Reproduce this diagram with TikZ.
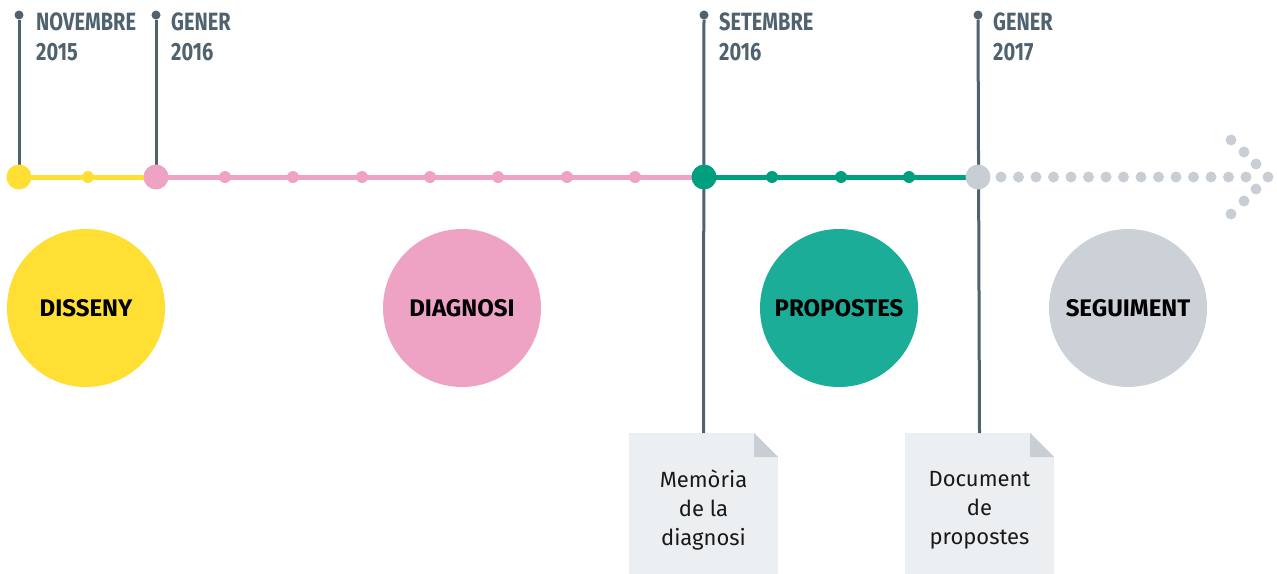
\documentclass[tikz,border=0pt]{standalone}
\usepackage{fontspec}
\setmainfont{Fira Sans}
\newfontfamily\datefont[FakeStretch=0.8]{Fira Sans}
\usetikzlibrary{positioning}

\definecolor{slate}{HTML}{4F626D}
\definecolor{yellowc}{HTML}{FFDF33}
\definecolor{pinkc}{HTML}{EEA3C5}
\definecolor{greenl}{HTML}{00A07F}
\definecolor{greenc}{HTML}{1BAD98}
\definecolor{greyc}{HTML}{C8CED4}
\definecolor{greyph}{HTML}{CBD1D7}
\definecolor{paper}{HTML}{ECEFF2}

\begin{document}
\begin{tikzpicture}[x=1pt,y=-1pt,
  bigdot/.style={circle,inner sep=0pt,minimum size=25pt},
  smalldot/.style={circle,inner sep=0pt,minimum size=12pt},
  greydot/.style={circle,inner sep=0pt,minimum size=11pt,fill=greyc},
  topdot/.style={circle,inner sep=0pt,minimum size=9pt,fill=slate},
  pin/.style={slate,line width=3pt},
  track/.style={line width=5pt},
  datelabel/.style={anchor=base west,align=left,inner sep=0pt,text=slate,
    font=\datefont\bfseries\fontsize{25}{30}\selectfont},
  phase/.style={circle,inner sep=0pt,minimum size=158pt,text=black,
    font=\bfseries\fontsize{24}{28}\selectfont},
  docbox/.style={rectangle,fill=paper,inner sep=0pt,minimum width=149pt,
    minimum height=154pt,align=center,text=black!90,
    font=\fontsize{22}{29}\selectfont}]
\useasboundingbox (0,0) rectangle (1277,573);
\clip (0,0) rectangle (1277,573);

% documents
\node[docbox,anchor=north] (memoria) at (703.5,433) {Memòria\\de la\\diagnosi};
\node[docbox,anchor=north] (document) at (979.5,433) {Document\\de\\propostes};
\foreach \d in {memoria,document}{
  \fill[white] (\d.north east) -- ++(-24,0) -- ++(24,24) -- cycle;
  \fill[greyc] ([xshift=-24pt]\d.north east) -- ++(24,24) -- ++(-24,0) -- cycle;
}

% pins
\node[topdot] (t1) at (19,15) {};
\node[topdot] (t2) at (156,15) {};
\node[topdot] (t3) at (704,15) {};
\node[topdot] (t4) at (978,15) {};
\coordinate (p1) at (19,177);
\coordinate (p2) at (156,177);
\draw[pin] (t1) -- (p1);
\draw[pin] (t2) -- (p2);
\draw[pin] (t3) -- (memoria.north);
\draw[pin] (t4) -- (document.north);

% base anchor sits on the last line
\node[datelabel] (nov) at (36,60) {NOVEMBRE\\2015};
\node[datelabel] (gen16) at (171,60) {GENER\\2016};
\node[datelabel] (set) at (719,60) {SETEMBRE\\2016};
\node[datelabel] (gen17) at (993,60) {GENER\\2017};

% timeline
\node[bigdot] (d1) at (19,177) {};
\node[bigdot] (d2) at (156,177) {};
\node[bigdot] (d3) at (704,177) {};
\node[bigdot] (d4) at (978,177) {};
\draw[track,yellowc] (d1.center) -- (d2.center);
\draw[track,pinkc] (d2.center) -- (d3.center);
\draw[track,greenl] (d3.center) -- (d4.center);
\node[bigdot,fill=yellowc] at (d1) {};
\node[bigdot,fill=pinkc] at (d2) {};
\node[bigdot,fill=greenl] at (d3) {};
\node[bigdot,fill=greyc] at (d4) {};
\node[smalldot,fill=yellowc] (y1) at (88,177) {};
\foreach \x [count=\i] in {225,293,362,430,498,567,635}
  \node[smalldot,fill=pinkc] (r\i) at (\x,177) {};
\foreach \x [count=\i] in {772,841,909}
  \node[smalldot,fill=greenl] (v\i) at (\x,177) {};

% arrow
\foreach \i in {0,...,14}
  \node[greydot] (g\i) at (1001+\i*17.5,177) {};
\node[greydot] (tip) at (1268,177) {};
\foreach \dx/\dy [count=\i] in {0/37,13/25,25/13,25/-12,13/-24,0/-37}
  \node[greydot] (h\i) at (1231+\dx,177-\dy) {};

% phases
\node[phase,fill=yellowc] (disseny) at (86,308) {DISSENY};
\node[phase,fill=pinkc] (diagnosi) at (462,308) {DIAGNOSI};
\node[phase,fill=greenc] (propostes) at (839,308) {PROPOSTES};
\node[phase,fill=greyph] (seguiment) at (1128,308) {SEGUIMENT};
\end{tikzpicture}
\end{document}
